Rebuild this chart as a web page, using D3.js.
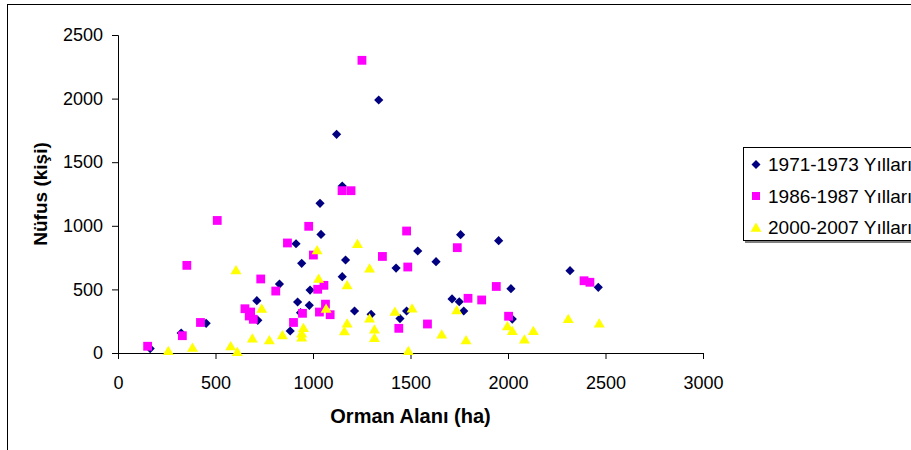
<!DOCTYPE html>
<html>
<head>
<meta charset="utf-8">
<script src="https://cdn.jsdelivr.net/npm/d3@7"></script>
<style>
  body { margin: 0; background: #fff; }
  text { font-family: "Liberation Sans", Arial, sans-serif; fill: #000; }
</style>
</head>
<body>
<div id="chart-area"></div>
<script>
// series names (legend)
var seriesNames = ["1971-1973 Yılları", "1986-1987 Yılları", "2000-2007 Yılları"];

// 1971-1973: [orman alanı (ha), nüfus]
var data1971 = [
  [165, 35], [324, 157], [452, 233], [712, 411], [717, 257], [828, 542],
  [913, 859], [942, 705], [921, 401], [936, 317], [883, 173], [985, 495],
  [981, 375], [1036, 1177], [1041, 932], [1121, 1719], [1150, 1313], [1167, 731],
  [1150, 600], [1213, 330], [1298, 304], [1337, 1989], [1426, 668], [1446, 271],
  [1480, 330], [1537, 802], [1631, 718], [1713, 425], [1750, 403], [1773, 330],
  [1757, 930], [1952, 883], [2015, 506], [2022, 267], [2318, 647], [2463, 516]
];

// 1986-1987
var data1986 = [
  [152, 53], [330, 136], [353, 689], [423, 240], [509, 1042], [651, 348],
  [680, 322], [673, 291], [694, 265], [732, 582], [809, 487], [869, 865],
  [900, 240], [946, 312], [978, 996], [1002, 770], [1024, 501], [1056, 532],
  [1033, 322], [1064, 384], [1088, 301], [1149, 1276], [1195, 1276], [1251, 2301],
  [1356, 759], [1440, 194], [1480, 959], [1486, 676], [1587, 228], [1740, 828],
  [1795, 430], [1865, 417], [1940, 523], [2003, 289], [2390, 568], [2420, 556]
];

// 2000-2007
var data2000 = [
  [258, 18], [382, 43], [578, 55], [605, 652], [612, 10], [689, 115],
  [737, 350], [776, 102], [843, 141], [951, 199], [942, 155], [942, 123],
  [1021, 810], [1029, 586], [1067, 350], [1175, 535], [1175, 233], [1161, 173],
  [1228, 859], [1290, 666], [1290, 273], [1315, 186], [1315, 119], [1420, 326],
  [1489, 18], [1508, 351], [1660, 148], [1737, 338], [1785, 102], [1997, 212],
  [2022, 175], [2084, 108], [2130, 175], [2309, 270], [2468, 233]
];

var xTicks = [0, 500, 1000, 1500, 2000, 2500, 3000];
var yTicks = [0, 500, 1000, 1500, 2000, 2500];

var W = 911, H = 450;
var margin = {top: 35, left: 118};
var width = 585, height = 318;

var svg = d3.select("#chart-area")
  .append("svg")
  .attr("width", W)
  .attr("height", H);

// chart frame (runs past the window on right and bottom)
svg.append("rect")
  .attr("x", 7.5).attr("y", 4.5)
  .attr("width", 940).attr("height", 480)
  .attr("fill", "#fff")
  .attr("stroke", "#000");

var g = svg.append("g")
  .attr("transform", "translate(" + margin.left + "," + margin.top + ")");

var x = d3.scaleLinear().domain([0, 3000]).range([0, width]);
var y = d3.scaleLinear().domain([0, 2500]).range([height, 0]);

var xAxis = g.append("g")
  .attr("transform", "translate(0," + height + ")")
  .call(d3.axisBottom(x).tickValues(xTicks).tickFormat(d3.format("d")).tickSize(6).tickPadding(17));

var yAxis = g.append("g")
  .call(d3.axisLeft(y).tickValues(yTicks).tickFormat(d3.format("d")).tickSize(6).tickPadding(9));

[xAxis, yAxis].forEach(function(a) {
  a.select(".domain").attr("stroke", "#000");
  a.selectAll(".tick line").attr("stroke", "#000");
  a.selectAll(".tick text")
    .style("font-family", "'Liberation Sans', Arial, sans-serif")
    .style("font-size", "18px")
    .attr("fill", "#000");
});

// axis titles
g.append("text")
  .attr("x", width / 2)
  .attr("y", height + 70)
  .attr("text-anchor", "middle")
  .style("font-size", "20px")
  .style("font-weight", "bold")
  .text("Orman Alanı (ha)");

g.append("text")
  .attr("transform", "rotate(-90)")
  .attr("x", -height / 2)
  .attr("y", -71)
  .attr("text-anchor", "middle")
  .style("font-size", "19px")
  .style("font-weight", "bold")
  .text("Nüfus (kişi)");

// marker shapes
function diamond(s) {
  return "M0," + (-s) + "L" + s + ",0L0," + s + "L" + (-s) + ",0Z";
}
function square(s) {
  return "M" + (-s) + "," + (-s) + "h" + (2 * s) + "v" + (2 * s) + "h" + (-2 * s) + "Z";
}
function triangle(s) {
  return "M0," + (-s) + "L" + (s * 1.1) + "," + (s * 0.85) + "L" + (-s * 1.1) + "," + (s * 0.85) + "Z";
}

var series = [
  {data: data1971, color: "#000080", shape: function() { return diamond(4.6); }},
  {data: data1986, color: "#FF00FF", shape: function() { return square(4.4); }},
  {data: data2000, color: "#FFFF00", shape: function() { return triangle(5); }}
];

series.forEach(function(s, i) {
  g.append("g").selectAll("path")
    .data(s.data)
    .enter()
    .append("path")
    .attr("transform", function(d) { return "translate(" + x(d[0]) + "," + y(d[1]) + ")"; })
    .attr("d", s.shape)
    .attr("fill", s.color);
});

// legend
var legend = svg.append("g").attr("transform", "translate(743,147)");
legend.append("rect")
  .attr("x", 2).attr("y", 2)
  .attr("width", 200).attr("height", 94)
  .attr("fill", "#808080");
legend.append("rect")
  .attr("x", 0.5).attr("y", 0.5)
  .attr("width", 200).attr("height", 93)
  .attr("fill", "#fff")
  .attr("stroke", "#000");

var rows = legend.selectAll(".row")
  .data(series)
  .enter()
  .append("g")
  .attr("transform", function(d, i) { return "translate(13," + (17.5 + i * 31.5) + ")"; });

rows.append("path")
  .attr("d", function(d, i) {
    return i === 0 ? diamond(4.5) : i === 1 ? square(4) : triangle(5);
  })
  .attr("fill", function(d) { return d.color; });

rows.append("text")
  .attr("x", 12)
  .attr("dy", "0.36em")
  .style("font-size", "19px")
  .text(function(d, i) { return seriesNames[i]; });
</script>
</body>
</html>
